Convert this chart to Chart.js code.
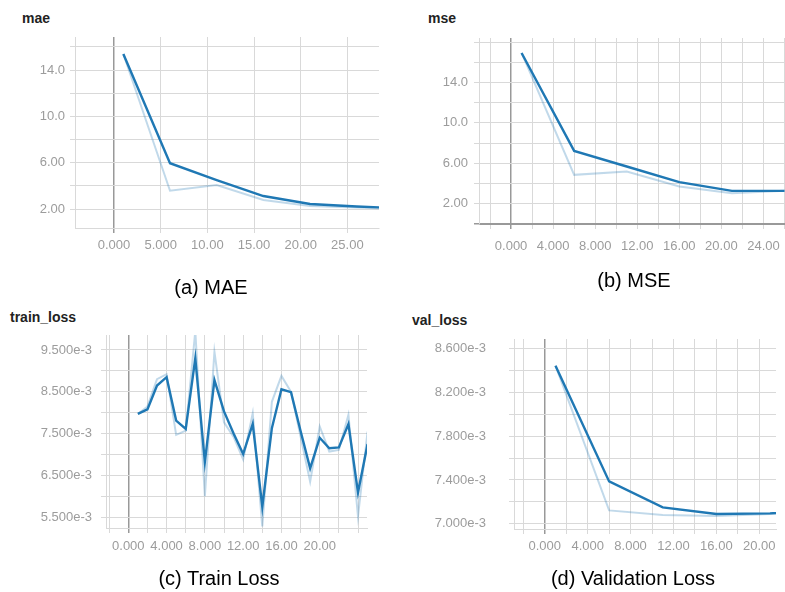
<!DOCTYPE html>
<html>
<head>
<meta charset="utf-8">
<script src="https://cdn.jsdelivr.net/npm/chart.js@4.4.0/dist/chart.umd.min.js"></script>
<style>
  html, body { margin: 0; padding: 0; background: #fff; overflow: hidden; }
  body { width: 785px; height: 592px; position: relative; font-family: 'Liberation Sans', Arial, sans-serif; }
  .box { position: absolute; }
  .title { position: absolute; font-size: 14px; line-height: 14px; font-weight: bold; color: #222; }
  .cap { position: absolute; font-size: 20px; line-height: 20px; color: #000; transform: translateX(-50%); white-space: nowrap; }
</style>
</head>
<body>
<div class="title" style="left:22px;top:11px">mae</div>
<div class="title" style="left:428px;top:11px">mse</div>
<div class="title" style="left:10px;top:310px">train_loss</div>
<div class="title" style="left:412px;top:313px">val_loss</div>

<div class="box" id="boxMae"><canvas id="mae"></canvas></div>
<div class="box" id="boxMse"><canvas id="mse"></canvas></div>
<div class="box" id="boxTrain"><canvas id="train"></canvas></div>
<div class="box" id="boxVal"><canvas id="val"></canvas></div>

<div class="cap" style="left:211px;top:277px">(a) MAE</div>
<div class="cap" style="left:634px;top:270px">(b) MSE</div>
<div class="cap" style="left:219px;top:568px">(c) Train Loss</div>
<div class="cap" style="left:633px;top:568px">(d) Validation Loss</div>

<script>
// values
const maeSteps = [1, 6, 11, 16, 21, 26, 31];
const maeSmoothed = [15.38, 5.95, 4.5, 3.12, 2.43, 2.22, 2.05];
const maeRaw = [15.38, 3.58, 4.07, 2.78, 2.26, 2.12, 2.0];

const mseSteps = [1, 6, 11, 16, 21, 26];
const mseSmoothed = [16.92, 7.23, 5.69, 4.14, 3.28, 3.28];
const mseRaw = [16.92, 4.86, 5.19, 3.71, 3.05, 3.28];

const trainSteps = [1, 2, 3, 4, 5, 6, 7, 8, 9, 10, 11, 12, 13, 14, 15, 16, 17, 18, 19, 20, 21, 22, 23, 24, 25];
const trainSmoothed = [7.97e-3, 8.08e-3, 8.65e-3, 8.85e-3, 7.81e-3, 7.61e-3, 9.30e-3, 6.82e-3, 8.78e-3, 8.03e-3,
  7.50e-3, 7.01e-3, 7.73e-3, 5.75e-3, 7.63e-3, 8.56e-3, 8.49e-3, 7.56e-3, 6.67e-3, 7.40e-3,
  7.15e-3, 7.17e-3, 7.73e-3, 6.09e-3, 7.25e-3];
const trainRaw = [7.97e-3, 8.15e-3, 8.80e-3, 8.92e-3, 7.47e-3, 7.57e-3, 9.95e-3, 6.00e-3, 9.46e-3, 7.77e-3,
  7.42e-3, 6.88e-3, 7.99e-3, 5.28e-3, 8.26e-3, 8.88e-3, 8.50e-3, 7.43e-3, 6.35e-3, 7.67e-3,
  7.07e-3, 7.11e-3, 7.95e-3, 5.52e-3, 7.55e-3];

const valSteps = [1, 6, 11, 16, 21, 26];
const valSmoothed = [8.445e-3, 7.387e-3, 7.150e-3, 7.089e-3, 7.095e-3, 7.13e-3];
const valRaw = [8.445e-3, 7.122e-3, 7.079e-3, 7.070e-3, 7.090e-3, 7.12e-3];

// labelled ticks (the other grid lines carry no label)
const maeXTicks = [0, 5, 10, 15, 20, 25];
const maeYTicks = [2, 6, 10, 14];
const mseXTicks = [0, 4, 8, 12, 16, 20, 24];
const mseYTicks = [2, 6, 10, 14];
const trainXTicks = [0, 4, 8, 12, 16, 20];
const trainYTicks = [5.5e-3, 6.5e-3, 7.5e-3, 8.5e-3, 9.5e-3];
const valXTicks = [0, 4, 8, 12, 16, 20];
const valYTicks = [7.0e-3, 7.4e-3, 7.8e-3, 8.2e-3, 8.6e-3];

const DARK = '#1f78b4';
const LIGHT = 'rgba(31, 120, 180, 0.28)';
const GRID = '#d9d9d9';
const ZERO = '#999999';
const TICK_FONT = { family: "'Liberation Sans', Arial, sans-serif", size: 13 };
const TICK_COLOR = '#9c9c9c';

function pairs(xs, ys) {
  return xs.map((x, i) => ({ x: x, y: ys[i] }));
}

function labelFor(value, list, step, fmt) {
  for (const v of list) {
    if (Math.abs(value - v) < step / 1000) return fmt(v);
  }
  return '';
}

function makeChart(p) {
  const box = document.getElementById(p.box);
  const yw = 100, xh = 40;
  box.style.left = (p.area.l - yw) + 'px';
  box.style.top = (p.area.t - 40) + 'px';
  box.style.width = (p.area.r - p.area.l + yw + 20) + 'px';
  box.style.height = (p.area.b - p.area.t + 80) + 'px';

  const isZero = ctx => ctx.tick && Math.abs(ctx.tick.value) < 1e-12;
  const grid = {
    color: ctx => (isZero(ctx) ? ZERO : GRID),
    lineWidth: ctx => (isZero(ctx) ? 1.5 : 1),
    tickLength: 5
  };

  return new Chart(document.getElementById(p.id), {
    type: 'line',
    data: {
      datasets: [
        { data: pairs(p.steps, p.smoothed), borderColor: DARK, borderWidth: 2.4, pointRadius: 0, tension: 0 },
        { data: pairs(p.steps, p.raw), borderColor: LIGHT, borderWidth: 2, pointRadius: 0, tension: 0 }
      ]
    },
    options: {
      responsive: true,
      maintainAspectRatio: false,
      animation: false,
      layout: { padding: { top: 40, right: 20, left: 0, bottom: 0 } },
      plugins: { legend: { display: false }, tooltip: { enabled: false } },
      scales: {
        x: {
          type: 'linear',
          min: p.x[0], max: p.x[1],
          afterFit: s => { s.height = xh; },
          grid: grid,
          border: { color: p.bottomDark ? ZERO : GRID },
          ticks: {
            stepSize: p.x[2], includeBounds: false, autoSkip: false, maxRotation: 0,
            maxTicksLimit: 100, padding: p.padX, color: TICK_COLOR, font: TICK_FONT,
            callback: v => labelFor(v, p.xTicks, p.x[2], t => t.toPrecision(4))
          }
        },
        y: {
          min: p.y[0], max: p.y[1],
          afterFit: s => { s.width = yw; },
          grid: grid,
          border: { color: GRID },
          ticks: {
            stepSize: p.y[2], includeBounds: false, maxTicksLimit: 100,
            padding: p.padY, color: TICK_COLOR, font: TICK_FONT,
            callback: v => labelFor(v, p.yTicks, p.y[2], p.fmtY)
          }
        }
      }
    }
  });
}

makeChart({
  id: 'mae', box: 'boxMae', area: { l: 75, t: 37, r: 379, b: 228 },
  steps: maeSteps, smoothed: maeSmoothed, raw: maeRaw,
  x: [-4.18, 28.39, 5], y: [0.36, 16.85, 2], xTicks: maeXTicks, yTicks: maeYTicks,
  padX: 5, padY: 5, fmtY: t => t.toPrecision(3)
});

makeChart({
  id: 'mse', box: 'boxMse', area: { l: 479, t: 38, r: 785, b: 224 },
  steps: mseSteps, smoothed: mseSmoothed, raw: mseRaw,
  x: [-3.05, 26.05, 2], y: [0, 18.4, 2], xTicks: mseXTicks, yTicks: mseYTicks,
  padX: 10, padY: 6, fmtY: t => t.toPrecision(3), bottomDark: true
});

makeChart({
  id: 'train', box: 'boxTrain', area: { l: 106, t: 335, r: 367, b: 528 },
  steps: trainSteps, smoothed: trainSmoothed, raw: trainRaw,
  x: [-2.33, 24.94, 2], y: [5.242e-3, 9.858e-3, 5e-4], xTicks: trainXTicks, yTicks: trainYTicks,
  padX: 6, padY: 9, fmtY: t => t.toExponential(3)
});

makeChart({
  id: 'val', box: 'boxVal', area: { l: 514, t: 339, r: 776, b: 529 },
  steps: valSteps, smoothed: valSmoothed, raw: valRaw,
  x: [-2.87, 21.56, 2], y: [6.952e-3, 8.689e-3, 2e-4], xTicks: valXTicks, yTicks: valYTicks,
  padX: 5, padY: 23, fmtY: t => t.toExponential(3)
});
</script>
</body>
</html>
